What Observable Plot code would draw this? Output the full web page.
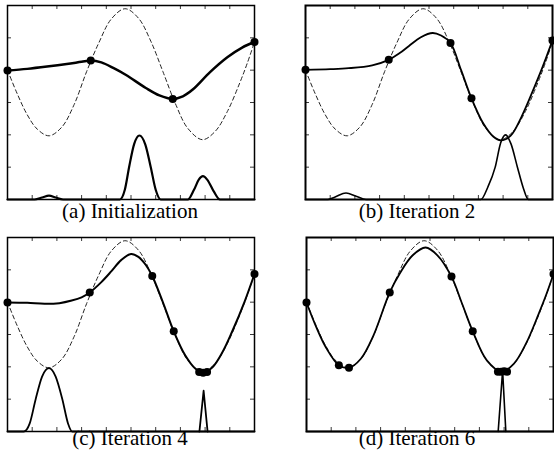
<!DOCTYPE html>
<html><head><meta charset="utf-8">
<script src="https://cdn.jsdelivr.net/npm/d3@7"></script>
<script src="https://cdn.jsdelivr.net/npm/@observablehq/plot@0.6"></script>
<style>
html,body{margin:0;padding:0;background:#fff;overflow:hidden}
#wrap{position:relative;width:554px;height:455px;overflow:hidden}
.panel{position:absolute}
.cap{position:absolute;font-family:'Liberation Serif','Times New Roman',Times,serif;font-size:21px;line-height:21px;white-space:nowrap;transform:translateX(-50%);color:#000}
</style></head><body><div id="wrap"></div>
<script>
// ---- data ----
const xTicks = [1,2,3,4,5,6,7,8,9];
const yTicks = [1,2,3,4,5];
const captions = ["(a) Initialization", "(b) Iteration 2", "(c) Iteration 4", "(d) Iteration 6"];

// true objective (dashed), same in every panel
const trueFn = [[0,4.0],[0.4,3.26],[0.8,2.62],[1.2,2.18],[1.68,1.97],[2.2,2.24],[2.7,2.94],[3.2,3.95],[3.7,4.85],[4.2,5.58],[4.76,5.9],[5.3,5.61],[5.8,4.9],[6.3,3.94],[6.8,2.96],[7.3,2.2],[7.89,1.85],[8.4,2.1],[8.9,2.72],[9.4,3.6],[9.7,4.2],[10,4.87]];

// GP mean (solid)
const meanA = [[0,3.99],[0.8,4.04],[1.6,4.11],[2.4,4.19],[3.0,4.26],[3.37,4.30],[3.8,4.24],[4.3,4.06],[4.8,3.85],[5.6,3.45],[6.15,3.22],[6.69,3.11],[7.1,3.19],[7.5,3.40],[8.2,3.94],[8.9,4.40],[9.5,4.70],[10,4.87]];
const meanB = [[0,4.01],[1.0,4.03],[1.75,4.06],[2.7,4.15],[3.37,4.32],[3.8,4.52],[4.19,4.75],[4.67,5.02],[5.15,5.15],[5.49,5.07],[5.87,4.84],[6.3,4.0],[6.72,3.13],[7.2,2.35],[7.6,1.95],[7.9,1.83],[8.3,1.97],[8.74,2.55],[9.28,3.5],[9.6,4.1],[10,4.92]];
const meanC = [[0,3.99],[0.8,3.98],[1.5,3.95],[2.1,3.97],[2.6,4.05],[3.0,4.15],[3.33,4.30],[3.8,4.62],[4.2,4.95],[4.6,5.3],[5.0,5.49],[5.3,5.4],[5.6,5.15],[5.86,4.81],[6.3,3.98],[6.73,3.1],[7.2,2.35],[7.6,1.95],[7.94,1.84],[8.3,1.99],[8.7,2.45],[9.1,3.1],[9.6,4.02],[10,4.87]];
const meanD = [[0,3.99],[0.4,3.22],[0.8,2.58],[1.31,2.05],[1.72,1.97],[2.2,2.25],[2.7,2.95],[3.37,4.30],[3.8,4.92],[4.3,5.45],[4.82,5.69],[5.3,5.45],[5.87,4.79],[6.3,3.95],[6.73,3.1],[7.3,2.2],[7.9,1.85],[8.4,2.1],[8.9,2.74],[9.4,3.64],[9.7,4.22],[10,4.87]];

// observations (dots)
const obsA = [[0,3.99],[3.37,4.30],[6.69,3.11],[10,4.87]];
const obsB = [[0,4.01],[3.37,4.32],[5.87,4.84],[6.72,3.13],[10,4.92]];
const obsC = [[0,3.99],[3.33,4.30],[5.86,4.81],[6.73,3.10],[7.76,1.84],[7.92,1.82],[8.08,1.84],[10,4.87]];
const obsD = [[0,3.99],[1.31,2.05],[1.72,1.97],[3.37,4.30],[5.87,4.79],[6.73,3.10],[7.75,1.85],[7.88,1.85],[8.0,1.86],[8.12,1.85],[10,4.87]];

// acquisition function (bottom)
const acqA = [[0,0],[1.1,0],[1.4,0.06],[1.68,0.12],[1.95,0.06],[2.25,0],[4.55,0],[4.75,0.3],[4.93,1.03],[5.13,1.72],[5.34,1.98],[5.58,1.7],[5.8,1.0],[6.0,0.3],[6.2,0],[7.3,0],[7.55,0.3],[7.75,0.62],[7.91,0.72],[8.1,0.6],[8.35,0.25],[8.6,0],[10,0]];
const acqB = [[0,0],[0.9,0],[1.2,0.08],[1.64,0.2],[2.05,0.1],[2.45,0],[7.1,0],[7.38,0.38],[7.68,1.0],[7.9,1.75],[8.1,2.0],[8.32,1.72],[8.58,1.0],[8.82,0.35],[9.02,0],[10,0]];
const acqC = [[0,0],[0.66,0],[0.9,0.25],[1.14,1.0],[1.4,1.7],[1.68,1.96],[1.95,1.7],[2.22,1.0],[2.45,0.25],[2.62,0],[10,0]];
const acqD = [[0,0],[10,0]];
const spikeC = [[7.77,0],[7.94,1.26],[8.1,0]];
const spikeD = [[7.76,0],[7.94,1.88],[8.07,0]];

// ---- drawing ----
const panels = [
  {mean: meanA, obs: obsA, acq: acqA, spike: null, left: 7, top: 5, capX: 130, capTop: 200.5, frameW: 1.5, meanW: 2.5, acqW: 2.2},
  {mean: meanB, obs: obsB, acq: acqB, spike: null, left: 305, top: 5, capX: 417, capTop: 200.5, frameW: 2, meanW: 1.8, acqW: 1.6},
  {mean: meanC, obs: obsC, acq: acqC, spike: spikeC, left: 7, top: 237, capX: 130, capTop: 427.5, frameW: 1.5, meanW: 2, acqW: 1.8},
  {mean: meanD, obs: obsD, acq: acqD, spike: spikeD, left: 306, top: 237, capX: 417, capTop: 427.5, frameW: 2, meanW: 1.8, acqW: 1.6}
];
const W = 247, H = 194, mL = 3, mR = 6, mT = 3, mB = 3;
const wrap = document.getElementById("wrap");
const px = d => d[0], py = d => d[1];

panels.forEach((p, i) => {
  const marks = [
    Plot.ruleX(xTicks, {x: d => d, insetTop: H - 4, stroke: "#222", strokeWidth: 0.9}),
    Plot.ruleX(xTicks, {x: d => d, insetBottom: H - 4, stroke: "#222", strokeWidth: 0.9}),
    Plot.ruleY(yTicks, {y: d => d, insetRight: W - 4, stroke: "#222", strokeWidth: 0.9}),
    Plot.ruleY(yTicks, {y: d => d, insetLeft: W - 4, stroke: "#222", strokeWidth: 0.9}),
    Plot.line(trueFn, {x: px, y: py, curve: "catmull-rom", stroke: "#222", strokeWidth: 1, strokeDasharray: "4,3"}),
    Plot.line(p.acq, {x: px, y: py, curve: "monotone-x", stroke: "#000", strokeWidth: p.acqW})
  ];
  if (p.spike) marks.push(Plot.line(p.spike, {x: px, y: py, curve: "linear", stroke: "#000", strokeWidth: p.acqW}));
  marks.push(
    Plot.line(p.mean, {x: px, y: py, curve: "catmull-rom", stroke: "#000", strokeWidth: p.meanW}),
    Plot.dot(p.obs, {x: px, y: py, r: 4, fill: "#000", stroke: "none"}),
    Plot.frame({stroke: "#000", strokeWidth: p.frameW})
  );
  const svg = Plot.plot({
    width: W + mL + mR, height: H + mT + mB,
    marginLeft: mL, marginRight: mR, marginTop: mT, marginBottom: mB,
    x: {domain: [0, 10], axis: null},
    y: {domain: [0, 6], axis: null},
    style: {background: "transparent", overflow: "visible"},
    marks
  });
  svg.classList.add("panel");
  svg.style.left = (p.left - mL) + "px";
  svg.style.top = (p.top - mT) + "px";
  wrap.appendChild(svg);
  const cap = document.createElement("div");
  cap.className = "cap";
  cap.textContent = captions[i];
  cap.style.left = p.capX + "px";
  cap.style.top = p.capTop + "px";
  wrap.appendChild(cap);
});
</script>
</body></html>
